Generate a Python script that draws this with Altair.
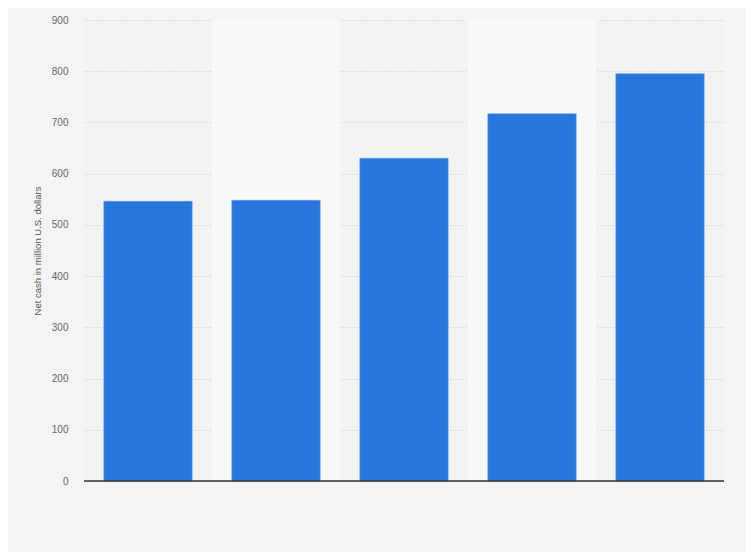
import altair as alt
import pandas as pd

categories = ["2016", "2017", "2018", "2019", "2020"]
values = [546, 548, 630, 717, 795]
stripe_flags = [0, 1, 0, 1, 0]

df = pd.DataFrame({"cat": categories, "value": values, "stripe": stripe_flags})

x_scale = alt.Scale(domain=categories, paddingInner=0.31, paddingOuter=0.155)
y_scale = alt.Scale(domain=[0, 900])

y_axis = alt.Axis(values=list(range(0, 1000, 100)), labelPadding=16,
                  titlePadding=9, titleFontSize=9.5, titleFontWeight="normal",
                  titleColor="#555555", labelColor="#666666", labelFontSize=10,
                  ticks=False, domain=False, gridDash=[1, 2],
                  gridColor="#cccccc", gridWidth=1)
y_title = "Net cash in million U.S. dollars"

base = alt.Chart(df)

stripes = base.transform_filter(alt.datum.stripe == 1).mark_bar(
    color="#f8f8f8", width=alt.RelativeBandSize(1.449)
).encode(
    x=alt.X("cat:N", scale=x_scale, title=None,
            axis=alt.Axis(labels=False, ticks=False, domain=False, grid=False)),
    y=alt.Y("max_v:Q", scale=y_scale, title=y_title, axis=y_axis),
).transform_calculate(max_v="900")

bars = base.mark_bar(color="#2876dd", stroke="#5b9ae8", strokeWidth=0.6).encode(
    x=alt.X("cat:N", scale=x_scale, title=None,
            axis=alt.Axis(labels=False, ticks=False, domain=False, grid=False)),
    y=alt.Y("value:Q", scale=y_scale, title=y_title, axis=y_axis),
)

baseline = alt.Chart(pd.DataFrame({"y": [0]})).mark_rule(color="#333333", strokeWidth=1.5).encode(
    y=alt.Y("y:Q", scale=y_scale, title=y_title, axis=y_axis)
)

chart = alt.layer(stripes, bars, baseline).properties(
    width=640, height=461,
    autosize=alt.AutoSizeParams(type="none"),
    padding={"left": 76, "top": 12, "right": 22, "bottom": 71},
    background="#f4f4f4",
).configure(
    font="Liberation Sans"
).configure_view(stroke=None, strokeWidth=0, fill="#f2f2f2")

chart.save("out.html", embed_options={"renderer": "svg", "actions": False})
